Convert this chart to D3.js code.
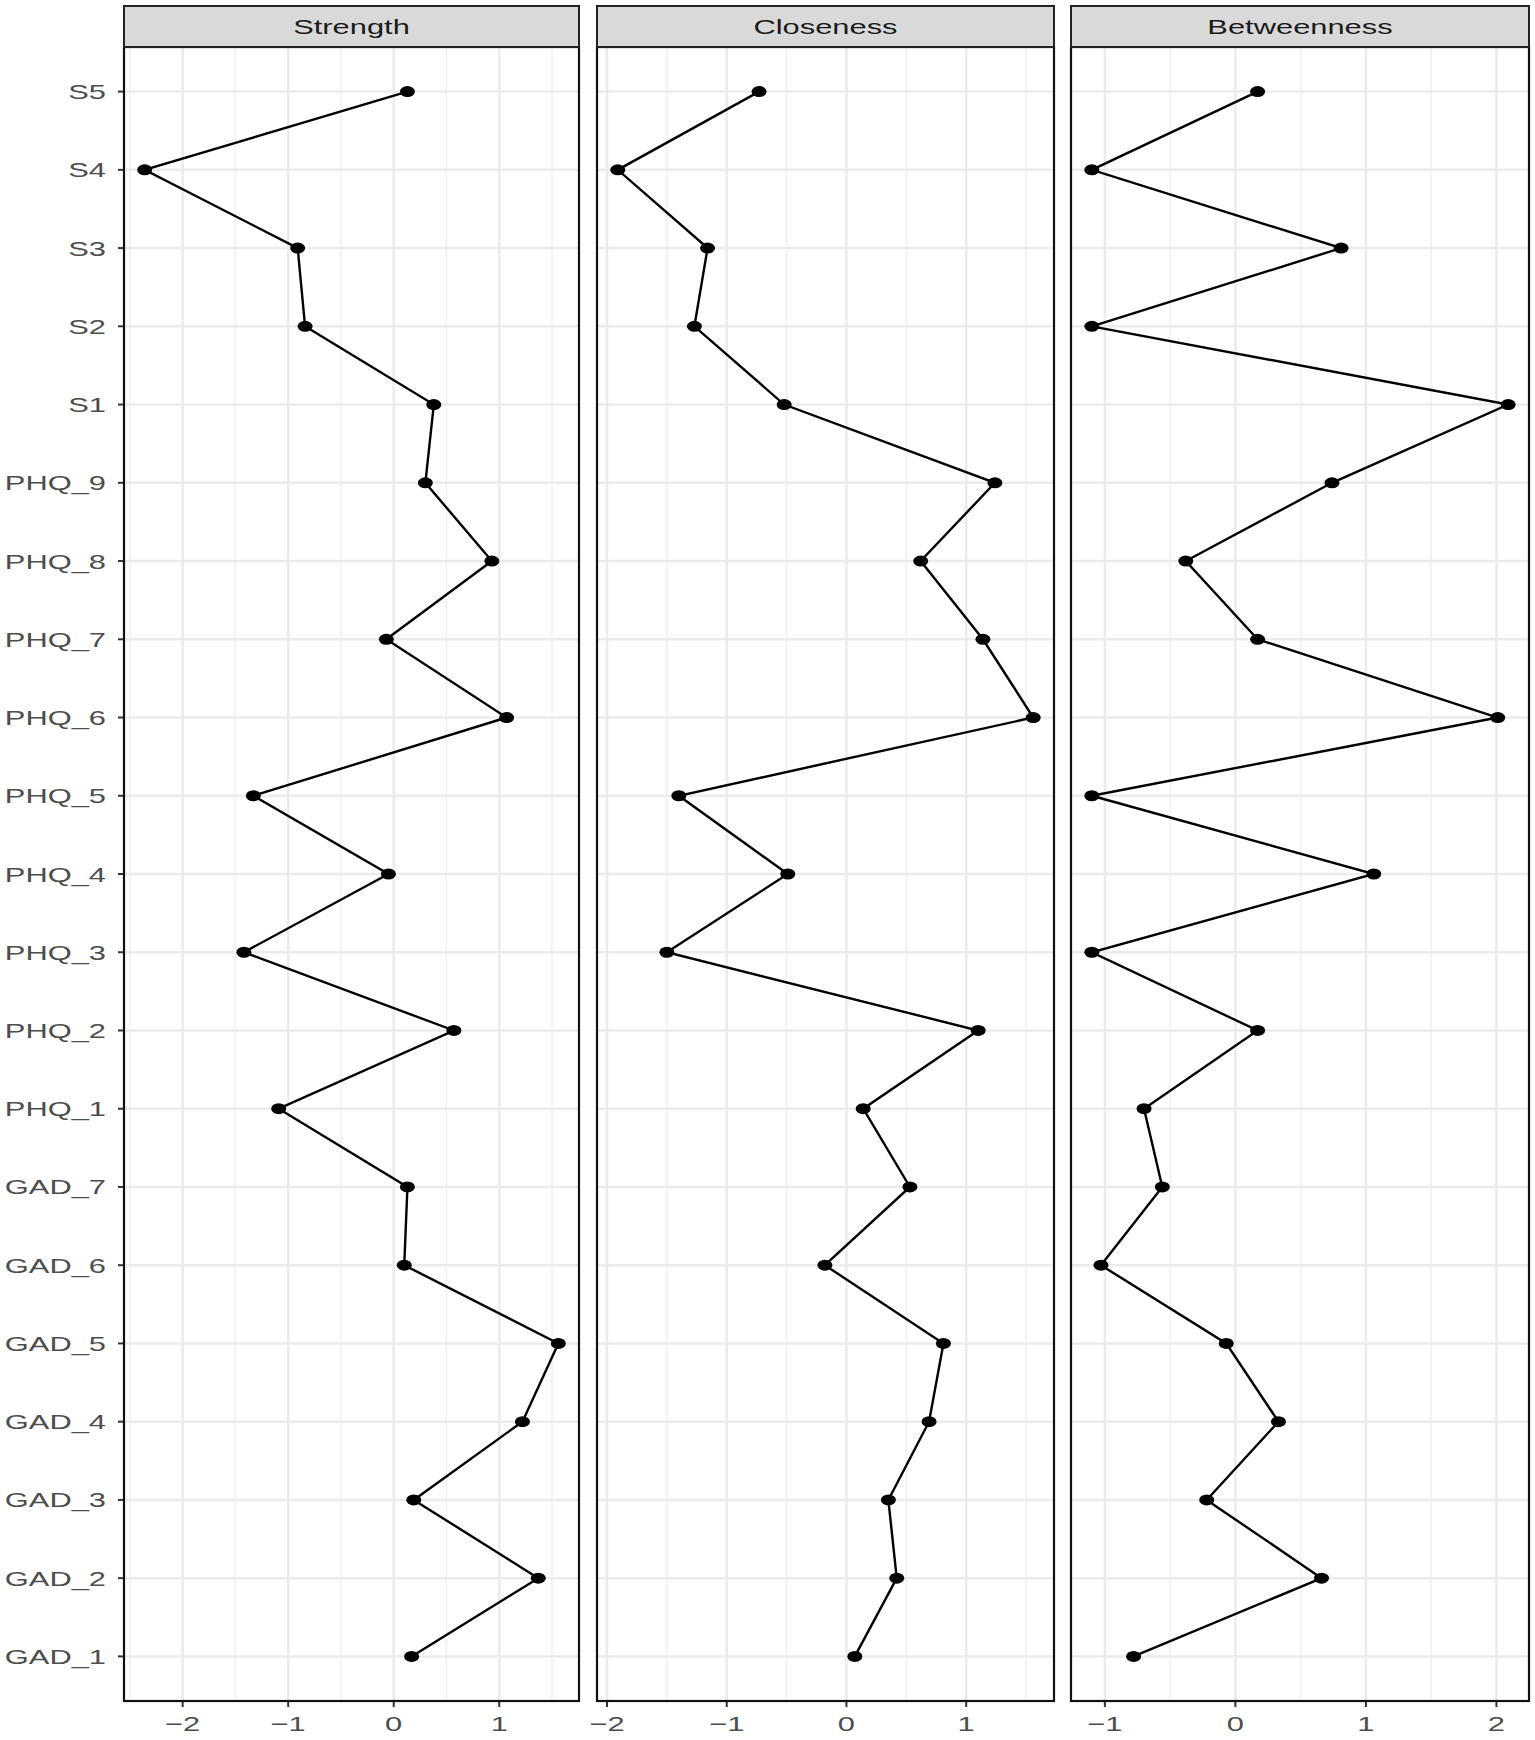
<!DOCTYPE html>
<html>
<head>
<meta charset="utf-8">
<script src="https://cdn.jsdelivr.net/npm/d3@7"></script>
<style>
  body { margin: 0; background: #fff; }
  svg text { font-family: "Liberation Sans", Arial, sans-serif; }
</style>
</head>
<body>
<div id="chart"></div>
<script>
// Centrality indices (standardized z-scores)
const nodes = ["S5", "S4", "S3", "S2", "S1",
  "PHQ_9", "PHQ_8", "PHQ_7", "PHQ_6", "PHQ_5", "PHQ_4", "PHQ_3", "PHQ_2", "PHQ_1",
  "GAD_7", "GAD_6", "GAD_5", "GAD_4", "GAD_3", "GAD_2", "GAD_1"];

const strength = [0.13, -2.36, -0.91, -0.84, 0.38,
  0.30, 0.93, -0.07, 1.07, -1.33, -0.05, -1.42, 0.57, -1.09,
  0.13, 0.10, 1.56, 1.22, 0.19, 1.37, 0.17];

const closeness = [-0.73, -1.91, -1.16, -1.27, -0.52,
  1.24, 0.62, 1.14, 1.56, -1.40, -0.49, -1.50, 1.10, 0.14,
  0.53, -0.18, 0.81, 0.69, 0.35, 0.42, 0.07];

const betweenness = [0.17, -1.10, 0.81, -1.10, 2.09,
  0.74, -0.38, 0.17, 2.01, -1.10, 1.06, -1.10, 0.17, -0.70,
  -0.56, -1.03, -0.07, 0.33, -0.22, 0.66, -0.78];

const panelNames = ["Strength", "Closeness", "Betweenness"];
const strengthTicks = [-2, -1, 0, 1];
const closenessTicks = [-2, -1, 0, 1];
const betweennessTicks = [-1, 0, 1, 2];

const panels = [
  { name: panelNames[0], values: strength, ticks: strengthTicks, x0: 124, x1: 579 },
  { name: panelNames[1], values: closeness, ticks: closenessTicks, x0: 597, x1: 1054 },
  { name: panelNames[2], values: betweenness, ticks: betweennessTicks, x0: 1071, x1: 1529 }
];

const width = 1535, height = 1740;
const stripTop = 6, panelTop = 47, panelBottom = 1701;
const stretch = 1.47;   // text in the source image is widened horizontally
const fontSize = 21;

const svg = d3.select("#chart").append("svg")
  .attr("width", width)
  .attr("height", height);

const y = d3.scalePoint()
  .domain(nodes)
  .range([panelTop, panelBottom])
  .padding(0.57);

const fmt = (v) => (v < 0 ? "\u2212" + Math.abs(v) : String(v));

panels.forEach((p, pi) => {
  const [lo, hi] = d3.extent(p.values);
  const pad = (hi - lo) * 0.05;
  const x = d3.scaleLinear().domain([lo - pad, hi + pad]).range([p.x0, p.x1]);

  const g = svg.append("g");

  // panel background
  g.append("rect")
    .attr("x", p.x0).attr("y", panelTop)
    .attr("width", p.x1 - p.x0).attr("height", panelBottom - panelTop)
    .attr("fill", "#fff");

  // minor grid
  const minor = d3.range(Math.ceil((lo - pad) * 2) / 2, hi + pad, 0.5)
    .filter((v) => Math.abs(v - Math.round(v)) > 0.01);
  g.selectAll("line.minor").data(minor).enter().append("line")
    .attr("x1", (d) => x(d)).attr("x2", (d) => x(d))
    .attr("y1", panelTop).attr("y2", panelBottom)
    .attr("stroke", "#f0f0f0").attr("stroke-width", 1.5);

  // major grid
  g.selectAll("line.vmajor").data(p.ticks).enter().append("line")
    .attr("x1", (d) => x(d)).attr("x2", (d) => x(d))
    .attr("y1", panelTop).attr("y2", panelBottom)
    .attr("stroke", "#ebebeb").attr("stroke-width", 2.5);

  g.selectAll("line.hmajor").data(nodes).enter().append("line")
    .attr("x1", p.x0).attr("x2", p.x1)
    .attr("y1", (d) => y(d)).attr("y2", (d) => y(d))
    .attr("stroke", "#ebebeb").attr("stroke-width", 2.5);

  // line + points
  const pts = nodes.map((n, i) => ({ node: n, v: p.values[i] }));
  g.append("path")
    .datum(pts)
    .attr("fill", "none")
    .attr("stroke", "#000")
    .attr("stroke-width", 2.4)
    .attr("d", d3.line().x((d) => x(d.v)).y((d) => y(d.node)));

  g.selectAll("ellipse").data(pts).enter().append("ellipse")
    .attr("cx", (d) => x(d.v)).attr("cy", (d) => y(d.node))
    .attr("rx", 7.5).attr("ry", 5.5)
    .attr("fill", "#000");

  // panel border
  g.append("rect")
    .attr("x", p.x0).attr("y", panelTop)
    .attr("width", p.x1 - p.x0).attr("height", panelBottom - panelTop)
    .attr("fill", "none").attr("stroke", "#111").attr("stroke-width", 2.2);

  // strip
  g.append("rect")
    .attr("x", p.x0).attr("y", stripTop)
    .attr("width", p.x1 - p.x0).attr("height", panelTop - stripTop)
    .attr("fill", "#d9d9d9").attr("stroke", "#222").attr("stroke-width", 2);

  g.append("text")
    .attr("transform", `translate(${(p.x0 + p.x1) / 2},${(stripTop + panelTop) / 2 + 7}) scale(${stretch},1)`)
    .attr("text-anchor", "middle")
    .attr("font-size", fontSize)
    .attr("fill", "#1a1a1a")
    .text(p.name);

  // x axis ticks + labels
  const xa = g.append("g");
  xa.selectAll("line").data(p.ticks).enter().append("line")
    .attr("x1", (d) => x(d)).attr("x2", (d) => x(d))
    .attr("y1", panelBottom + 1).attr("y2", panelBottom + 6)
    .attr("stroke", "#333").attr("stroke-width", 2);
  xa.selectAll("text").data(p.ticks).enter().append("text")
    .attr("transform", (d) => `translate(${x(d)},${panelBottom + 30}) scale(${stretch},1)`)
    .attr("text-anchor", "middle")
    .attr("font-size", fontSize)
    .attr("fill", "#4d4d4d")
    .text(fmt);

  // y axis on first panel only
  if (pi === 0) {
    const ya = g.append("g");
    ya.selectAll("line").data(nodes).enter().append("line")
      .attr("x1", p.x0 - 6).attr("x2", p.x0 - 1)
      .attr("y1", (d) => y(d)).attr("y2", (d) => y(d))
      .attr("stroke", "#333").attr("stroke-width", 2);
    ya.selectAll("text").data(nodes).enter().append("text")
      .attr("transform", (d) => `translate(${p.x0 - 18},${y(d) + 7.5}) scale(${stretch},1)`)
      .attr("text-anchor", "end")
      .attr("font-size", fontSize)
      .attr("fill", "#4d4d4d")
      .text((d) => d);
  }
});
</script>
</body>
</html>
